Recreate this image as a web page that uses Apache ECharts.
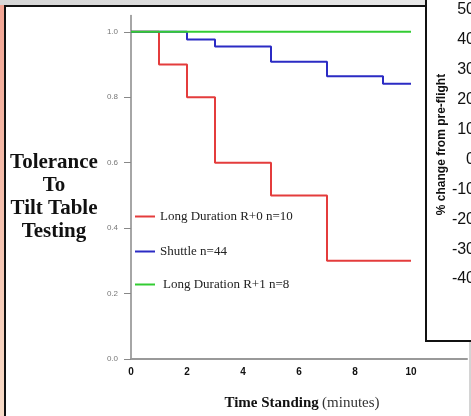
<!DOCTYPE html>
<html>
<head>
<meta charset="utf-8">
<script src="https://cdn.jsdelivr.net/npm/echarts@6/dist/echarts.min.js"></script>
<style>
html,body{margin:0;padding:0;background:#fff;}
#c{width:471px;height:416px;}
</style>
</head>
<body>
<div id="c"></div>
<script>
// ---- data ----
const seriesNames = ['Long Duration R+0 n=10', 'Shuttle n=44', 'Long Duration R+1 n=8'];
const redData = [[0, 1.0], [1, 0.9], [2, 0.8], [3, 0.6], [5, 0.5], [7, 0.3], [10, 0.3]];
const blueData = [[0, 1.0], [2, 0.977], [3, 0.955], [5, 0.909], [7, 0.864], [9, 0.841], [10, 0.841]];
const greenData = [[0, 1.0], [10, 1.0]];
const xTicks = [0, 2, 4, 6, 8, 10];
const yTicks = [0, 0.2, 0.4, 0.6, 0.8, 1.0];
const overlayTicks = [-40, -30, -20, -10, 0, 10, 20, 30, 40, 50];
const colors = ['#e43c3c', '#2b2bc4', '#33cc33'];

const serif = "'Liberation Serif', 'DejaVu Serif', serif";
const sans = "'Liberation Sans', Arial, sans-serif";

const chart = echarts.init(document.getElementById('c'), null, {renderer: 'canvas'});

function legendFor(i, top, extraPad) {
  return {
    data: [seriesNames[i]],
    left: 130, top: top, orient: 'vertical',
    icon: 'rect', itemWidth: 20, itemHeight: 2,
    textStyle: {fontFamily: serif, fontSize: 13, color: '#222', padding: [0, 0, 0, extraPad || 0]},
    selectedMode: false
  };
}

const option = {
  animation: false,
  backgroundColor: '#fff',
  title: {
    text: 'Tolerance\nTo\nTilt Table\nTesting',
    left: 49, top: 146, textAlign: 'center',
    textStyle: {fontFamily: serif, fontWeight: 'bold', fontSize: 21, lineHeight: 23, color: '#111'}
  },
  legend: [legendFor(0, 205), legendFor(1, 240), legendFor(2, 273, 3)],
  grid: [
    {left: 131, top: 15.5, width: 336, height: 346.5, containLabel: false},
    {left: 476, top: 10, width: 1, height: 269, containLabel: false}
  ],
  xAxis: [{
    type: 'value', gridIndex: 0, min: 0, max: 12, interval: 2,
    axisLine: {show: true, lineStyle: {color: '#999', width: 2}},
    axisTick: {show: false},
    splitLine: {show: false},
    axisLabel: {customValues: xTicks, fontFamily: sans, fontWeight: 'bold', fontSize: 10, color: '#111', margin: 8},
    name: '{a|Time Standing} {b|(minutes)}',
    nameLocation: 'middle', nameGap: 37,
    nameTextStyle: {
      padding: [0, 0, 0, 6],
      rich: {
        a: {fontFamily: serif, fontSize: 15, color: '#111', fontWeight: 'bold'},
        b: {fontFamily: serif, fontSize: 15, color: '#333'}
      }
    }
  }, {
    type: 'value', gridIndex: 1, show: false
  }],
  yAxis: [{
    type: 'value', gridIndex: 0, min: 0, max: 1.05,
    axisLine: {show: true, lineStyle: {color: '#888', width: 1.5}},
    axisTick: {show: true, customValues: yTicks, length: 7, lineStyle: {color: '#888', width: 1}},
    splitLine: {show: false},
    axisLabel: {customValues: yTicks, fontFamily: sans, fontSize: 8, color: '#777', margin: 13,
      formatter: v => v.toFixed(1)}
  }, {
    type: 'value', gridIndex: 1, min: -40, max: 50, interval: 10, position: 'left',
    axisLine: {show: false}, axisTick: {show: false}, splitLine: {show: false},
    axisLabel: {customValues: overlayTicks, fontFamily: sans, fontSize: 16, color: '#111', margin: 1},
    name: '% change from pre-flight', nameLocation: 'middle', nameRotate: 90, nameGap: 25,
    nameTextStyle: {fontFamily: sans, fontWeight: 'bold', fontSize: 12, color: '#111'}
  }],
  series: [
    {name: seriesNames[0], type: 'line', step: 'end', data: redData, symbol: 'none',
      lineStyle: {color: colors[0], width: 2}, itemStyle: {color: colors[0]}},
    {name: seriesNames[1], type: 'line', step: 'end', data: blueData, symbol: 'none',
      lineStyle: {color: colors[1], width: 2}, itemStyle: {color: colors[1]}},
    {name: seriesNames[2], type: 'line', step: 'end', data: greenData, symbol: 'none',
      lineStyle: {color: colors[2], width: 2}, itemStyle: {color: colors[2]}}
  ],
  graphic: [
    {type: 'rect', z: -10, shape: {x: 0, y: 0, width: 4, height: 416},
      style: {fill: new echarts.graphic.LinearGradient(0, 0, 0, 1, [{offset: 0, color: '#f2a493'}, {offset: 1, color: '#f8dcc8'}])}},
    {type: 'rect', z: -10, shape: {x: 0, y: 0, width: 428, height: 5},
      style: {fill: new echarts.graphic.LinearGradient(0, 0, 1, 0, [{offset: 0, color: '#d6d6d6'}, {offset: 1, color: '#e8e8e8'}])}},
    {type: 'rect', z: -9, shape: {x: 4, y: 5, width: 2, height: 411}, style: {fill: '#111'}},
    {type: 'rect', z: -9, shape: {x: 4, y: 5, width: 424, height: 2}, style: {fill: '#111'}},
    {type: 'rect', z: -8, shape: {x: 426, y: -3, width: 50, height: 344},
      style: {fill: '#fff', stroke: '#111', lineWidth: 2}},
    {type: 'rect', z: -8, shape: {x: 469.5, y: 342, width: 1, height: 74}, style: {fill: '#aaa'}}
  ]
};
chart.setOption(option);
</script>
</body>
</html>
